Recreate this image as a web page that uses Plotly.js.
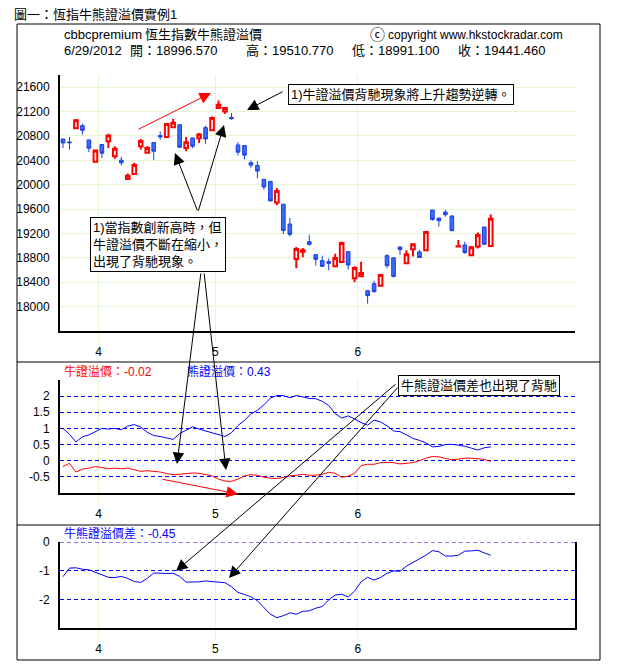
<!DOCTYPE html>
<html>
<head>
<meta charset="utf-8">
<script src="https://cdn.plot.ly/plotly-3.0.1.min.js"></script>
<style>html,body{margin:0;padding:0;background:#fff;}</style>
</head>
<body>
<div id="chart" style="width:618px;height:666px;"></div>
<script>
// ---- data ----
const dates = ['3/23','3/26','3/27','3/28','3/29','3/30',
 '4/2','4/3','4/5','4/10','4/11','4/12','4/13','4/16','4/17','4/18','4/19','4/20','4/23','4/24','4/25','4/26','4/27','4/30',
 '5/2','5/3','5/4','5/7','5/8','5/9','5/10','5/11','5/14','5/15','5/16','5/17','5/18','5/21','5/22','5/23','5/24','5/25','5/28','5/29','5/30','5/31',
 '6/1','6/4','6/5','6/6','6/7','6/8','6/11','6/12','6/13','6/14','6/15','6/18','6/19','6/20','6/21','6/22','6/25','6/26','6/27','6/28','6/29'];

const openV = [20751,20700,20925,20969,20735,20376,20659,20713,20469,20403,
 20093,20175,20632,20523,20692,20806,20784,20942,20985,20604,
 20768,20762,20936,20893,21257,21203,21105,20653,20643,20360,
 20316,20088,20055,19707,19680,19355,18782,18902,19066,18853,
 18754,18738,18661,18732,18902,18465,18497,18262,18377,18344,
 18836,18800,18980,18713,18942,18898,18925,19584,19453,19551,
 19486,18985,19012,18844,18985,19306,18996.57];
const highV = [20751,20784,21078,21002,20735,20577,20659,20838,20632,20458,
 20186,20360,20751,20632,20692,20871,21012,21083,20985,20784,
 20768,20849,20969,21121,21382,21262,21176,20697,20643,20398,
 20387,20088,20055,19946,19680,19454,18978,18962,19180,18853,
 18836,18792,18869,19066,18902,18661,18738,18262,18426,18519,
 18858,18800,18980,18925,19023,18931,19241,19584,19453,19584,
 19502,19094,19067,18996,19214,19306,19510.77];
const lowV = [20604,20577,20914,20822,20534,20371,20436,20604,20425,20316,
 20082,20169,20577,20512,20403,20740,20779,20925,20604,20550,
 20599,20686,20670,20887,21246,21165,21067,20479,20414,20278,
 20104,19914,19729,19663,19190,19153,18629,18809,19000,18672,
 18650,18596,18650,18727,18607,18399,18497,18049,18230,18328,
 18629,18479,18849,18713,18822,18800,18925,19410,19312,19475,
 19246,18985,18866,18844,18953,19012,18991.10];
const closeV = [20686,20690,21056,20893,20599,20561,20517,20806,20588,20360,
 20148,20322,20719,20604,20550,20784,20996,21018,20615,20697,
 20632,20822,20751,21094,21312,21257,21083,20534,20485,20322,
 20224,19963,19734,19897,19250,19186,18945,18924,19022,18776,
 18661,18710,18798,19044,18683,18634,18552,18180,18246,18519,
 18672,18496,18936,18860,19023,18806,19225,19431,19410,19508,
 19246,18990,18887,18974,19176,19023,19441.46];

// 牛證溢價 (red)
const bullPremium = [-0.18,-0.08,-0.35,-0.26,-0.23,-0.18,-0.21,-0.25,-0.23,-0.25,
 -0.23,-0.28,-0.33,-0.31,-0.33,-0.35,-0.40,-0.43,-0.42,-0.39,
 -0.38,-0.39,-0.42,-0.47,-0.57,-0.63,-0.64,-0.57,-0.47,-0.43,
 -0.45,-0.51,-0.54,-0.55,-0.52,-0.47,-0.45,-0.42,-0.45,-0.45,
 -0.42,-0.36,-0.39,-0.51,-0.48,-0.39,-0.15,-0.11,-0.11,-0.06,
 -0.05,-0.06,-0.10,-0.09,-0.06,0.00,0.08,0.13,0.12,0.07,
 0.03,0.05,0.08,0.08,0.06,0.04,-0.02];
// 熊證溢價 (blue)
const bearPremium = [1.00,0.82,0.58,0.74,0.80,0.89,1.00,0.98,1.00,0.96,
 1.07,1.12,1.04,0.88,0.78,0.75,0.71,0.66,0.84,0.95,
 1.05,0.98,0.92,0.88,0.82,0.75,0.87,1.09,1.25,1.45,
 1.56,1.73,1.94,2.02,2.02,1.95,2.02,1.97,1.93,1.92,
 1.84,1.71,1.46,1.32,1.39,1.29,1.18,1.10,1.26,1.20,
 1.08,0.92,0.90,0.80,0.69,0.63,0.55,0.43,0.44,0.50,
 0.51,0.48,0.45,0.39,0.33,0.40,0.43];
// 牛熊證溢價差
const premiumDiff = [-1.21,-0.91,-0.90,-0.95,-0.97,-1.06,-1.16,-1.23,-1.24,-1.20,
 -1.27,-1.38,-1.41,-1.27,-1.08,-1.10,-1.10,-1.09,-1.20,-1.40,
 -1.40,-1.39,-1.36,-1.38,-1.38,-1.42,-1.56,-1.76,-1.83,-1.91,
 -2.05,-2.30,-2.52,-2.64,-2.57,-2.47,-2.52,-2.42,-2.40,-2.31,
 -2.25,-2.02,-1.85,-1.82,-1.92,-1.71,-1.39,-1.23,-1.33,-1.24,
 -1.09,-1.01,-1.02,-0.84,-0.72,-0.59,-0.46,-0.30,-0.34,-0.49,
 -0.49,-0.46,-0.32,-0.31,-0.29,-0.38,-0.46];

const priceTicks = [18000,18400,18800,19200,19600,20000,20400,20800,21200,21600];
const premTicks = [-0.5,0,0.5,1,1.5,2];
const diffTicks = [-2,-1,0];

// ---- build ----
const idx = dates.map((d,i)=>i);
const monthTickVals = [], monthTickText = [];
for (let i=1;i<dates.length;i++){
  const m0 = dates[i-1].split('/')[0], m1 = dates[i].split('/')[0];
  if (m0!==m1){ monthTickVals.push(i-0.5); monthTickText.push(m1); }
}

const FONT = "Arial, 'Liberation Sans', 'Noto Sans CJK TC', sans-serif";
const GRID_GREEN = '#e4f6d2';
const L=60, R=575, T=75, B=628;
const px = x => (x-L)/(R-L);
const py = y => (B-y)/(B-T);

const traces = [
  {type:'candlestick', x:idx, open:openV, high:highV, low:lowV, close:closeV,
   xaxis:'x', yaxis:'y', hoverinfo:'skip', whiskerwidth:0,
   increasing:{line:{color:'#ff0000', width:2}, fillcolor:'#ffffff'},
   decreasing:{line:{color:'#1a3fe6', width:1}, fillcolor:'#3a6cf5'}},
  {type:'scatter', mode:'lines', x:idx, y:bearPremium, xaxis:'x2', yaxis:'y2',
   line:{color:'#0000ff', width:1}, hoverinfo:'skip'},
  {type:'scatter', mode:'lines', x:idx, y:bullPremium, xaxis:'x2', yaxis:'y2',
   line:{color:'#ff0000', width:1}, hoverinfo:'skip'},
  {type:'scatter', mode:'lines', x:idx, y:premiumDiff, xaxis:'x3', yaxis:'y3',
   line:{color:'#0000ff', width:1}, hoverinfo:'skip'}
];

const xRange = [-0.46, 79];
function xAx(anchor, extra){
  return Object.assign({
    anchor:anchor, domain:[0,1], range:xRange, tickvals:monthTickVals, ticktext:monthTickText,
    showgrid:true, gridcolor:GRID_GREEN, gridwidth:1, zeroline:false,
    showline:true, linecolor:'#000', linewidth:2,
    ticks:'outside', ticklen:9, tickcolor:GRID_GREEN, tickwidth:1,
    tickfont:{family:FONT, size:12, color:'#000'}, fixedrange:true
  }, extra||{});
}
function yAx(anchor, domain, range, tickvals, gridcolor, griddash, extra){
  return Object.assign({
    anchor:anchor, domain:domain, range:range, tickvals:tickvals,
    ticktext: tickvals.map(v=>String(v)),
    showgrid:true, gridcolor:gridcolor, griddash:griddash, gridwidth:1, zeroline:false,
    showline:true, linecolor:'#000', linewidth:2, ticks:'', ticklabelstandoff:6,
    tickfont:{family:FONT, size:12, color:'#000'}, fixedrange:true
  }, extra||{});
}

function arrow(tx,ty,sx,sy,color,size){
  return {xref:'paper', yref:'paper', x:px(tx), y:py(ty), axref:'pixel', ayref:'pixel',
    ax:sx-tx, ay:sy-ty, text:'', showarrow:true, arrowhead:2, arrowsize:size||2.3,
    arrowwidth:1, arrowcolor:color, standoff:0, startstandoff:0};
}
function label(text, x, y, color, size, extra){
  return Object.assign({xref:'paper', yref:'paper', x:px(x), y:py(y), xanchor:'left', yanchor:'middle',
    text:text, showarrow:false, font:{family:FONT, size:size||12, color:color||'#000'}}, extra||{});
}
function boxLabel(text, x, y){
  return label(text, x, y, '#000', 13, {yanchor:'top', align:'left', bordercolor:'#000', borderwidth:1,
    borderpad:2, bgcolor:'#fff'});
}
const nb = '\u00a0';

const layout = {
  width:618, height:666, margin:{l:L, r:618-R, t:T, b:666-B},
  paper_bgcolor:'#fff', plot_bgcolor:'#fff', showlegend:false, boxgap:0.2,
  font:{family:FONT, size:12, color:'#000'},
  xaxis: xAx('y', {rangeslider:{visible:false}}),
  xaxis2: xAx('y2', {matches:'x'}),
  xaxis3: xAx('y3', {matches:'x'}),
  yaxis: yAx('x', [py(331), 1], [17600, 21800], priceTicks, GRID_GREEN, 'solid'),
  yaxis2: yAx('x2', [py(493), py(380)], [-1.0, 2.5], premTicks, '#0000ff', '4px,3px'),
  yaxis3: yAx('x3', [0, py(542)], [-3, 0], diffTicks, '#0000ff', '4px,3px', {mirror:true}),
  shapes:[
    {type:'rect', xref:'paper', yref:'paper', x0:px(17), x1:px(600), y0:py(660), y1:py(24),
     line:{color:'#000', width:1}},
    {type:'line', xref:'paper', yref:'paper', x0:px(17), x1:px(600), y0:py(362), y1:py(362),
     line:{color:'#000', width:1}},
    {type:'line', xref:'paper', yref:'paper', x0:px(17), x1:px(600), y0:py(525), y1:py(525),
     line:{color:'#000', width:1}},
    // top dashed reference line of the lower panel (value 0)
    {type:'line', xref:'x3 domain', yref:'y3', x0:0, x1:1, y0:0, y1:0,
     line:{color:'#0000ff', width:1, dash:'4px,3px'}}
  ],
  annotations:[
    label('圖一：恆指牛熊證溢價實例1', 12, 15, '#000', 13),
    label('cbbcpremium', 62, 35, '#000', 13),
    label('恆生指數牛熊證溢價', 143, 35, '#000', 13),
    label('ⓒ', 368, 35, '#000', 15),
    label('copyright'+nb+'www.hkstockradar.com', 386, 35, '#000', 12),
    label('6/29/2012', 62, 51, '#000', 13),
    label('開：18996.570', 128, 51, '#000', 13),
    label('高：19510.770', 244, 51, '#000', 13),
    label('低：18991.100', 350, 51, '#000', 13),
    label('收：19441.460', 456, 51, '#000', 13),
    label('牛證溢價：-0.02', 62, 371, '#ff0000', 12),
    label('熊證溢價：0.43', 185, 371, '#0000ff', 12),
    label('牛熊證溢價差：-0.45', 62, 533, '#0000ff', 12),
    // arrows
    arrow(211, 93, 137, 130, '#ff0000'),
    arrow(247, 110, 284, 91, '#000'),
    arrow(175, 153, 198, 212, '#000'),
    arrow(224, 125, 198, 212, '#000'),
    arrow(177, 464, 201, 272, '#000'),
    arrow(226, 470, 204, 272, '#000'),
    arrow(238, 494, 161, 479, '#ff0000'),
    arrow(176, 571, 397, 383, '#000'),
    arrow(229, 578, 399, 386, '#000'),
    // boxes
    boxLabel('1)牛證溢價背馳現象將上升趨勢逆轉。', 288, 84),
    boxLabel('1)當指數創新高時，但<br>牛證溢價不斷在縮小，<br>出現了背馳現象。', 90, 217),
    boxLabel('牛熊證溢價差也出現了背馳', 398, 375)
  ]
};

Plotly.newPlot('chart', traces, layout, {staticPlot:true, displayModeBar:false});
</script>
</body>
</html>
